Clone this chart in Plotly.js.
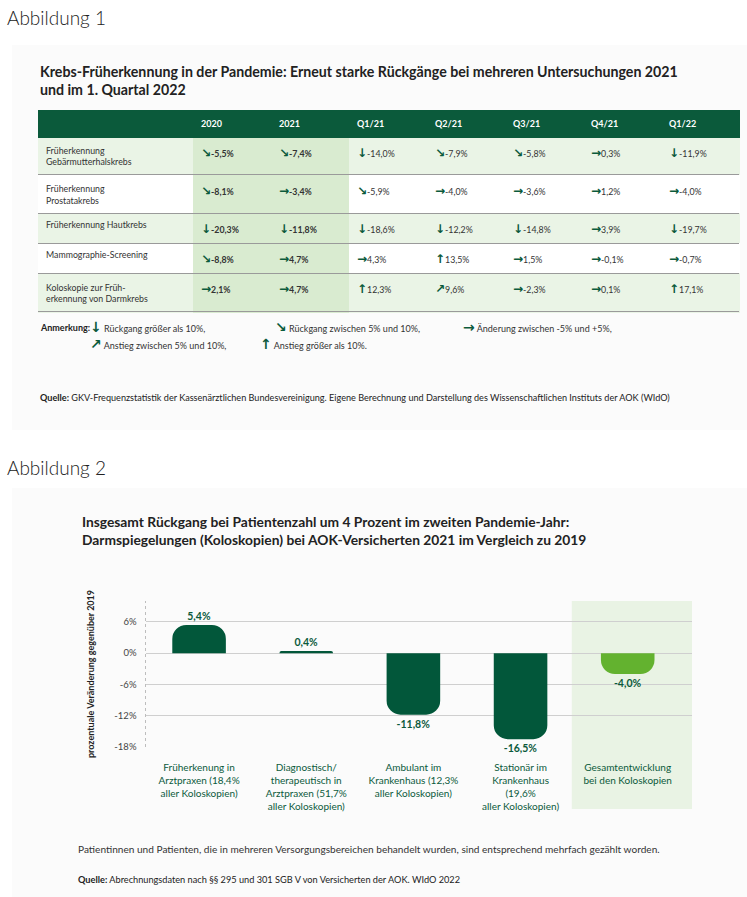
<!DOCTYPE html>
<html><head><meta charset="utf-8">
<script src="https://cdn.plot.ly/plotly-3.0.1.min.js"></script>
<style>html,body{margin:0;padding:0;background:#fff}#chart{width:747px;height:897px}</style>
</head><body><div id="chart"></div>
<script>
// ---------- DATA: Abbildung 1 (table) ----------
const tableRowLabels = [
  "Früherkennung<br>Gebärmutterhalskrebs",
  "Früherkennung<br>Prostatakrebs",
  "Früherkennung Hautkrebs",
  "Mammographie-Screening",
  "Koloskopie zur Früh-<br>erkennung von Darmkrebs"
];
const tablePeriods = ["2020", "2021", "Q1/21", "Q2/21", "Q3/21", "Q4/21", "Q1/22"];
const valGebaermutterhals = [-5.5, -7.4, -14.0, -7.9, -5.8, 0.3, -11.9];
const valProstata        = [-8.1, -3.4, -5.9, -4.0, -3.6, 1.2, -4.0];
const valHautkrebs       = [-20.3, -11.8, -18.6, -12.2, -14.8, 3.9, -19.7];
const valMammographie    = [-8.8, 4.7, 4.3, 13.5, 1.5, -0.1, -0.7];
const valKoloskopie      = [2.1, 4.7, 12.3, 9.6, -2.3, 0.1, 17.1];
const legendArrows = ["↓", "↘", "→", "↗", "↑"];
const legendTexts = [
  "Rückgang größer als 10%,",
  "Rückgang zwischen 5% und 10%,",
  "Änderung zwischen -5% und +5%,",
  "Anstieg zwischen 5% und 10%,",
  "Anstieg größer als 10%."
];

// ---------- DATA: Abbildung 2 (bar chart) ----------
const barCategories = [
  "Früherkenung in<br>Arztpraxen (18,4%<br>aller Koloskopien)",
  "Diagnostisch/<br>therapeutisch in<br>Arztpraxen (51,7%<br>aller Koloskopien)",
  "Ambulant im<br>Krankenhaus (12,3%<br>aller Koloskopien)",
  "Stationär im<br>Krankenhaus<br>(19,6%<br>aller Koloskopien)",
  "Gesamtentwicklung<br>bei den Koloskopien"
];
const barValues = [5.4, 0.4, -11.8, -16.5, -4.0];
const yTickVals = [6, 0, -6, -12, -18];
const yTickText = ["6%", "0%", "-6%", "-12%", "-18%"];

// ---------- helpers ----------
const W = 747, H = 897;
const px = x => x / W;
const py = y => 1 - y / H;
const GREEN = "#0b5a3b";
const LIGHT = "#eaf4e6";
const MID = "#d9ebd0";
const FONT = "Lato, 'Open Sans', sans-serif";

function arrowFor(v) {
  if (v < -10) return legendArrows[0];
  if (v <= -5) return legendArrows[1];
  if (v < 5) return legendArrows[2];
  if (v < 10) return legendArrows[3];
  return legendArrows[4];
}
function fmt(v) { return v.toFixed(1).replace(".", ",") + "%"; }

const rowsValues = [valGebaermutterhals, valProstata, valHautkrebs, valMammographie, valKoloskopie];
const twoLine = tableRowLabels.map(l => l.includes("<br>"));

// trailing <br> disables the table's automatic word wrapping (which would break the span tags)
function cellText(v, rowIdx, bold) {
  const shift = twoLine[rowIdx] ? "baseline-shift:-6.5px;" : "";
  const arrow = `<span style="font-family:'DejaVu Sans';color:${GREEN};font-weight:bold;font-size:12px;${shift}">${arrowFor(v)}</span>`;
  const num = `<span style="${shift}${bold ? "font-weight:bold;" : ""}">${fmt(v)}</span>`;
  return arrow + num + "<br>";
}

const cellColumns = [tableRowLabels];
const fillColumns = [tableRowLabels.map((_, i) => i % 2 === 0 ? LIGHT : "#ffffff")];
tablePeriods.forEach((p, c) => {
  const isYear = c < 2;
  cellColumns.push(rowsValues.map((row, r) => cellText(row[c], r, isYear)));
  fillColumns.push(rowsValues.map((_, r) => isYear ? MID : (r % 2 === 0 ? LIGHT : "#ffffff")));
});

const tableTrace = {
  type: "table",
  domain: { x: [px(38), px(739)], y: [0.5, py(110)] },
  columnwidth: [155].concat(tablePeriods.map(() => 78)),
  header: {
    values: [""].concat(tablePeriods.map(p => "<b>" + p + "</b>")),
    align: "left",
    height: 27,
    fill: { color: GREEN },
    line: { color: GREEN, width: 1 },
    font: { family: FONT, size: 9, color: "#ffffff" }
  },
  cells: {
    values: cellColumns,
    align: "left",
    height: 29,
    fill: { color: fillColumns },
    line: { color: fillColumns, width: 1 },
    font: { family: FONT, size: 8.8, color: "#333333" }
  }
};

const barTrace = {
  type: "bar",
  x: barCategories,
  y: barValues,
  xaxis: "x", yaxis: "y",
  width: 0.5,
  marker: {
    color: barValues.map((_, i) => i === barValues.length - 1 ? "#63b22f" : "#02573a"),
    cornerradius: 14
  },
  text: barValues.map(fmt),
  textposition: "outside",
  textfont: { family: FONT, size: 10.5, color: GREEN, weight: "bold" },
  cliponaxis: false,
  hoverinfo: "skip"
};

const annotations = [];
function ann(x, y, text, size, opts) {
  annotations.push(Object.assign({
    xref: "paper", yref: "paper", x: px(x), y: py(y), text: text,
    showarrow: false, xanchor: "left", yanchor: "middle", align: "left",
    font: { family: FONT, size: size, color: "#222" }
  }, opts || {}));
}
ann(5, 18, "Abbildung 1", 19, { font: { family: FONT, size: 19, color: "#222", weight: 300 } });
ann(38, 81, "<b>Krebs-Früherkennung in der Pandemie: Erneut starke Rückgänge bei mehreren Untersuchungen 2021<br>und im 1. Quartal 2022</b>", 14.2);
ann(38, 327, "<b>Anmerkung:</b>", 9);
const legendPos = [[88, 327], [273, 327], [461, 327], [88, 344], [258, 344]];
legendArrows.forEach((a, i) => {
  ann(legendPos[i][0], legendPos[i][1],
    `<span style="font-family:'DejaVu Sans';font-weight:bold;font-size:14px;color:${GREEN}">${a}</span> ${legendTexts[i]}`, 9,
    { font: { family: FONT, size: 9, color: "#333" } });
});
ann(38, 397, "<b>Quelle:</b> GKV-Frequenzstatistik der Kassenärztlichen Bundesvereinigung. Eigene Berechnung und Darstellung des Wissenschaftlichen Instituts der AOK (WIdO)", 9.1);
ann(5, 467, "Abbildung 2", 19, { font: { family: FONT, size: 19, color: "#222", weight: 300 } });
ann(80, 530, "<b>Insgesamt Rückgang bei Patientenzahl um 4 Prozent im zweiten Pandemie-Jahr:<br>Darmspiegelungen (Koloskopien) bei AOK-Versicherten 2021 im Vergleich zu 2019</b>", 13.8);
ann(76, 849, "Patientinnen und Patienten, die in mehreren Versorgungsbereichen behandelt wurden, sind entsprechend mehrfach gezählt worden.", 10.1, { font: { family: FONT, size: 10.1, color: "#333" } });
ann(76, 879, "<b>Quelle:</b> Abrechnungsdaten nach §§ 295 und 301 SGB V von Versicherten der AOK. WIdO 2022", 9.2);

const baseShapes = [
  { type: "rect", xref: "paper", yref: "paper", x0: px(12), x1: 1, y0: py(430), y1: py(45), fillcolor: "#fbfbfb", line: { width: 0 }, layer: "below" },
  { type: "rect", xref: "paper", yref: "paper", x0: px(12), x1: 1, y0: 0, y1: py(488), fillcolor: "#fbfbfb", line: { width: 0 }, layer: "below" },
  { type: "rect", xref: "x domain", yref: "paper", x0: 0.78, x1: 1.0, y0: py(809), y1: py(601), fillcolor: "#e9f3e4", line: { width: 0 }, layer: "below" },
  { type: "line", xref: "x domain", yref: "y domain", x0: 0, x1: 0, y0: 0, y1: 1, line: { color: "#bdbdbd", width: 1, dash: "dot" } }
];

const layout = {
  width: W, height: H,
  margin: { l: 0, r: 0, t: 0, b: 0 },
  paper_bgcolor: "#ffffff",
  plot_bgcolor: "rgba(0,0,0,0)",
  showlegend: false,
  font: { family: FONT },
  xaxis: {
    domain: [px(145.5), px(692)],
    range: [-0.5, 4.6],
    type: "category",
    showgrid: false, zeroline: false, showline: false, ticks: "",
    tickfont: { family: FONT, size: 10, color: GREEN },
    ticklabelstandoff: 13,
    fixedrange: true
  },
  yaxis: {
    domain: [py(747), py(601)],
    range: [-18, 10],
    tickvals: yTickVals, ticktext: yTickText,
    showgrid: true, gridcolor: "#cfcfcf", gridwidth: 1,
    zeroline: false, showline: false, ticks: "",
    tickfont: { family: FONT, size: 9.5, color: "#444" },
    ticklabelstandoff: 8,
    title: { text: "<b>prozentuale Veränderung gegenüber 2019</b>", font: { family: FONT, size: 9, color: "#222" }, standoff: 18 },
    fixedrange: true
  },
  annotations: annotations,
  shapes: baseShapes
};

const gd = document.getElementById("chart");
Plotly.newPlot(gd, [tableTrace, barTrace], layout, { staticPlot: true, displayModeBar: false }).then(() => {
  const cols = gd.querySelectorAll(".table .y-column");
  if (!cols.length) return;
  const top0 = gd.getBoundingClientRect().top;
  const bottoms = [];
  cols[0].querySelectorAll(".cell-rect").forEach(r => {
    const b = r.getBoundingClientRect();
    if (b.height > 0) bottoms.push(Math.round(b.bottom - top0));
  });
  const uniq = Array.from(new Set(bottoms)).filter(b => b > 0 && b < H).sort((a, b) => a - b);
  const rowBottoms = uniq.slice(1, 1 + tableRowLabels.length);
  const sepShapes = rowBottoms.map(b => ({
    type: "line", xref: "paper", yref: "paper",
    x0: tableTrace.domain.x[0], x1: tableTrace.domain.x[1],
    y0: py(b - 0.5), y1: py(b - 0.5),
    line: { color: "#9a9a9a", width: 1 }, layer: "above"
  }));
  return Plotly.relayout(gd, { shapes: baseShapes.concat(sepShapes) });
});
</script>
</body></html>
